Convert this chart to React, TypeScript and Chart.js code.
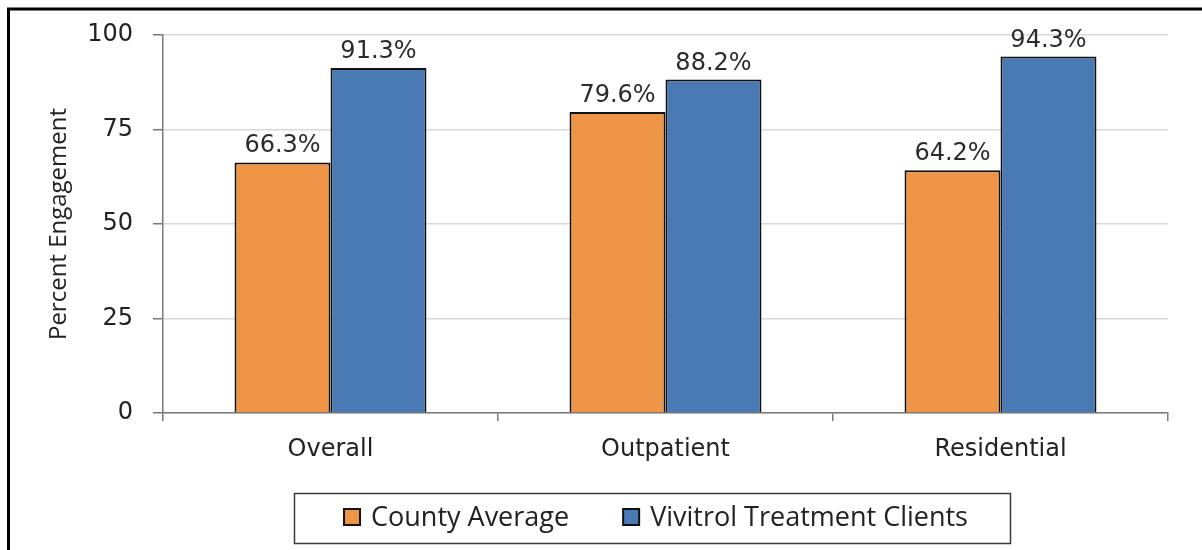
import React, { useEffect, useRef } from "react";
import { Chart, registerables } from "chart.js";

Chart.register(...registerables);

const categories = ["Overall", "Outpatient", "Residential"];
const countyAverage = [66.3, 79.6, 64.2];
const vivitrolClients = [91.3, 88.2, 94.3];
const seriesNames = ["County Average", "Vivitrol Treatment Clients"];
const seriesColors = ["#EE9548", "#4A7AB3"];
const yTicks = [0, 25, 50, 75, 100];
const yTitle = "Percent Engagement";

const NUM_FONT = "'DejaVu Sans', sans-serif";
const TEXT_FONT = "'Open Sans', 'Noto Sans', sans-serif";

const decorPlugin = {
  id: "decor",
  afterDatasetsDraw(chart: any) {
    const ctx = chart.ctx;
    ctx.save();
    ctx.font = `24px ${NUM_FONT}`;
    ctx.fillStyle = "#2b2b2b";
    ctx.textAlign = "center";
    ctx.textBaseline = "alphabetic";
    chart.data.datasets.forEach((ds: any, i: number) => {
      const meta = chart.getDatasetMeta(i);
      meta.data.forEach((bar: any, j: number) => {
        const v = ds.data[j] as number;
        ctx.fillText(v.toFixed(1) + "%", bar.x, bar.y - 10);
      });
    });
    ctx.restore();
  },
  afterDraw(chart: any) {
    const ctx = chart.ctx;
    ctx.save();
    // outer frame (left and top edges visible)
    ctx.strokeStyle = "#000";
    ctx.lineWidth = 3;
    ctx.beginPath();
    ctx.moveTo(8.5, chart.height + 5);
    ctx.lineTo(8.5, 9);
    ctx.lineTo(chart.width + 5, 9);
    ctx.stroke();

    // legend box
    const bx = 294, by = 493, bw = 716, bh = 50;
    ctx.lineWidth = 1.5;
    ctx.strokeStyle = "#3a3a3a";
    ctx.strokeRect(bx + 0.5, by + 0.5, bw, bh);

    ctx.font = `27px ${TEXT_FONT}`;
    ctx.textBaseline = "middle";
    ctx.textAlign = "left";
    const sq = 16, gapText = 11, gapItem = 54;
    const widths = seriesNames.map((n) => ctx.measureText(n).width);
    const total = widths.reduce((a, w) => a + sq + gapText + w, 0) + gapItem * (seriesNames.length - 1);
    let x = bx + bw / 2 + 4 - total / 2;
    const cy = by + bh / 2 - 1;
    seriesNames.forEach((name, i) => {
      ctx.fillStyle = seriesColors[i];
      ctx.fillRect(x, cy - sq / 2, sq, sq);
      ctx.strokeStyle = "#111";
      ctx.lineWidth = 2;
      ctx.strokeRect(x, cy - sq / 2, sq, sq);
      ctx.fillStyle = "#222";
      ctx.fillText(name, x + sq + gapText, cy + 1);
      x += sq + gapText + widths[i] + gapItem;
    });
    ctx.restore();
  },
};

export default function App() {
  const canvasRef = useRef<HTMLCanvasElement | null>(null);

  useEffect(() => {
    document.body.style.margin = "0";
    document.body.style.overflow = "hidden";
    const canvas = canvasRef.current;
    if (!canvas) return;
    const chart = new Chart(canvas, {
      type: "bar",
      data: {
        labels: categories,
        datasets: [
          {
            label: seriesNames[0],
            data: countyAverage,
            backgroundColor: seriesColors[0],
            borderColor: "#111",
            borderWidth: 2,
          },
          {
            label: seriesNames[1],
            data: vivitrolClients,
            backgroundColor: seriesColors[1],
            borderColor: "#111",
            borderWidth: 2,
          },
        ],
      },
      options: {
        animation: false,
        responsive: false,
        maintainAspectRatio: false,
        layout: { padding: { left: 0, right: 34, top: 35, bottom: 0 } },
        datasets: {
          bar: { barPercentage: 1, categoryPercentage: 0.573 },
        },
        plugins: {
          legend: { display: false },
          tooltip: { enabled: false },
          title: { display: false },
        },
        scales: {
          x: {
            offset: true,
            grid: {
              display: true,
              offset: true,
              drawOnChartArea: false,
              drawTicks: true,
              tickLength: 8,
              color: "#7a7a7a",
              lineWidth: 1.5,
            },
            border: { display: true, color: "#7a7a7a", width: 1.5 },
            ticks: {
              color: "#222",
              font: { family: NUM_FONT, size: 24 },
              padding: 14,
              maxRotation: 0,
            },
            afterFit(scale: any) {
              scale.height = 137;
            },
          },
          y: {
            min: 0,
            max: 100,
            afterBuildTicks(scale: any) {
              scale.ticks = yTicks.map((v) => ({ value: v }));
            },
            grid: {
              color: "#d9d9d9",
              lineWidth: 1.5,
              tickColor: "#7a7a7a",
              tickLength: 10,
              drawTicks: true,
            },
            border: { display: true, color: "#7a7a7a", width: 1.5 },
            ticks: {
              color: "#222",
              font: { family: NUM_FONT, size: 24 },
              padding: 20,
            },
            title: {
              display: true,
              text: yTitle,
              color: "#222",
              font: { family: TEXT_FONT, size: 24 },
              padding: { top: 45, bottom: 0 },
            },
            afterFit(scale: any) {
              scale.width = 163;
            },
          },
        },
      },
      plugins: [decorPlugin],
    });
    return () => chart.destroy();
  }, []);

  return (
    <div style={{ width: 1202, height: 550, background: "#fff" }}>
      <canvas ref={canvasRef} width={1202} height={550} style={{ display: "block", width: 1202, height: 550 }} />
    </div>
  );
}
